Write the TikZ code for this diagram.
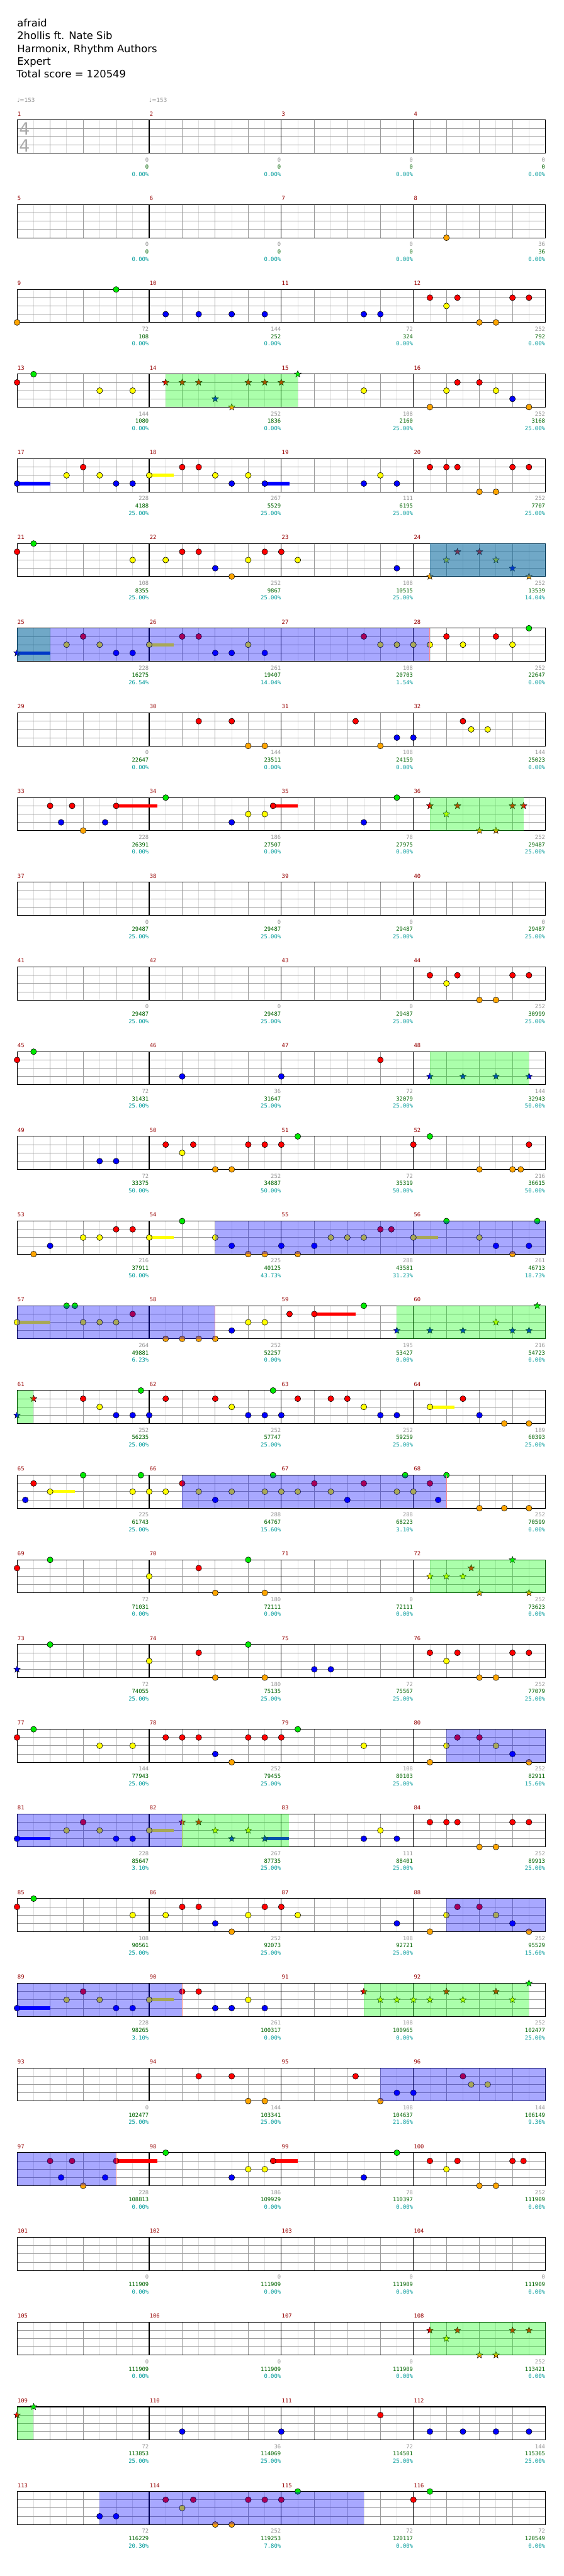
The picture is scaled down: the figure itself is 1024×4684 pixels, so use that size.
\documentclass[tikz,border=0pt]{standalone}
\usepackage{fontspec}
\setmainfont{DejaVu Sans}
\newfontfamily\monof{DejaVu Sans Mono}
\usetikzlibrary{shapes.geometric}
\definecolor{lG}{RGB}{0,235,0}
\definecolor{lR}{RGB}{255,0,0}
\definecolor{lY}{RGB}{255,255,0}
\definecolor{lB}{RGB}{0,0,255}
\definecolor{lO}{RGB}{255,165,0}
\definecolor{mred}{RGB}{150,0,0}
\definecolor{ngray}{RGB}{150,150,150}
\definecolor{ngreen}{RGB}{0,100,0}
\definecolor{nteal}{RGB}{0,155,155}
\definecolor{gridd}{RGB}{155,155,155}
\definecolor{gridl}{RGB}{220,220,220}
\definecolor{endred}{RGB}{255,140,140}
\def\laneG{0}\def\laneR{1}\def\laneY{2}\def\laneB{3}\def\laneO{4}
\newcounter{stc}
\newcommand\setpos[2]{%
  \pgfmathtruncatemacro\rowk{(#1-1)/4}%
  \pgfmathtruncatemacro\colj{#1-1-4*\rowk}%
  \pgfmathsetmacro\px{31+240*\colj+30*(#2)}%
  \pgfmathsetmacro\py{218.3+154*\rowk}}
\newcommand\nt[3]{\setpos{#1}{#2}\pgfmathsetmacro\qy{\py+15*\csname lane#3\endcsname}%
  \fill[l#3,draw=black,line width=0.5pt] (\px,\qy) circle[radius=4pt];}
\newcommand\sn[3]{\setpos{#1}{#2}\pgfmathsetmacro\qy{\py+15*\csname lane#3\endcsname}%
  \stepcounter{stc}\node[starnote,fill=l#3] (star\arabic{stc}) at (\px,\qy) {};}
\newcommand\sus[4]{\setpos{#1}{#2}\pgfmathsetmacro\qy{\py+15*\csname lane#3\endcsname}%
  \fill[l#3] (\px,{\qy-3}) rectangle ({\px+30*(#4)},{\qy+3});}
\newcommand\reg[5]{\setpos{#4}{#5}\let\xb\px\setpos{#2}{#3}%
  \fill[#1] (\px,\py) rectangle (\xb,{\py+60});}
\newcommand\regend[2]{\setpos{#1}{#2}\draw[endl] (\px,\py) -- (\px,{\py+60});}
\begin{document}
\begin{tikzpicture}[x=0.75pt,y=-0.75pt,
  offl/.style={draw=gridl,line width=0.75pt},
  beatl/.style={draw=gridd,line width=0.75pt},
  measl/.style={draw=black,line width=0.9pt},
  endl/.style={draw=endred,line width=0.8pt},
  starnote/.style={star,star points=5,star point ratio=2.3,minimum size=9.5pt,inner sep=0pt,draw=black,line width=0.4pt},
  gsp/.style={fill={rgb,255:red,0;green,255;blue,0},fill opacity=0.33},
  bsp/.style={fill={rgb,255:red,0;green,0;blue,255},fill opacity=0.34},
  head/.style={font=\fontsize{14pt}{16pt}\selectfont,anchor=base west,inner sep=0pt,text=black},
  lab/.style={font=\monof\fontsize{7.6pt}{9pt}\selectfont,text=mred,anchor=base west,inner sep=0pt},
  numa/.style={font=\monof\fontsize{7.6pt}{9pt}\selectfont,text=ngray,anchor=base east,inner sep=0pt},
  numb/.style={font=\monof\fontsize{7.6pt}{9pt}\selectfont,text=ngreen,anchor=base east,inner sep=0pt},
  numc/.style={font=\monof\fontsize{7.6pt}{9pt}\selectfont,text=nteal,anchor=base east,inner sep=0pt},
  tempo/.style={font=\fontsize{7.5pt}{9pt}\selectfont,text=ngray,anchor=base west,inner sep=0pt},
  tsig/.style={font=\fontsize{23pt}{24pt}\selectfont,text={rgb,255:red,170;green,170;blue,170},inner sep=0pt}]
\fill[white] (0,0) rectangle (1024,4684);
\useasboundingbox (0,0) rectangle (1024,4684);
% header
\node[head] (title) at (31,49) {afraid};
\node[head] (artist) at (31,72) {2hollis ft. Nate Sib};
\node[head] (charter) at (31,95) {Harmonix, Rhythm Authors};
\node[head] (diff) at (31,118) {Expert};
\node[head] (score) at (30,141) {Total score = 120549};
\node[tempo] (tempo1) at (31,185.5) {♩=153};
\node[tempo] (tempo2) at (271,185.5) {♩=153};
% grid
\foreach \k in {0,...,28} {
  \pgfmathsetmacro\T{218.3+154*\k}
  \foreach \i in {0,...,15} \draw[offl] ({61+60*\i},\T) -- ++(0,60);
  \foreach \i in {1,...,15} \draw[beatl] ({31+60*\i},\T) -- ++(0,60);
  \foreach \l in {1,2,3} \draw[beatl] (31,{\T+15*\l}) -- (991,{\T+15*\l});
  \foreach \j in {1,2,3} \draw[measl] ({31+240*\j},\T) -- ++(0,60);
  \draw[measl] (31,\T) rectangle (991,{\T+60});
}
\node[tsig] (ts1) at (44.5,234.6) {4};
\node[tsig] (ts2) at (44.5,265.2) {4};
% labels and numbers
\foreach \m/\ga/\gb/\gc in {1/0/0/0.00,2/0/0/0.00,3/0/0/0.00,4/0/0/0.00,5/0/0/0.00,6/0/0/0.00,7/0/0/0.00,8/36/36/0.00,
 9/72/108/0.00,10/144/252/0.00,11/72/324/0.00,12/252/792/0.00,13/144/1080/0.00,14/252/1836/0.00,15/108/2160/25.00,16/252/3168/25.00,
 17/228/4188/25.00,18/267/5529/25.00,19/111/6195/25.00,20/252/7707/25.00,21/108/8355/25.00,22/252/9867/25.00,23/108/10515/25.00,24/252/13539/14.04,
 25/228/16275/26.54,26/261/19407/14.04,27/108/20703/1.54,28/252/22647/0.00,29/0/22647/0.00,30/144/23511/0.00,31/108/24159/0.00,32/144/25023/0.00,
 33/228/26391/0.00,34/186/27507/0.00,35/78/27975/0.00,36/252/29487/25.00,37/0/29487/25.00,38/0/29487/25.00,39/0/29487/25.00,40/0/29487/25.00,
 41/0/29487/25.00,42/0/29487/25.00,43/0/29487/25.00,44/252/30999/25.00,45/72/31431/25.00,46/36/31647/25.00,47/72/32079/25.00,48/144/32943/50.00,
 49/72/33375/50.00,50/252/34887/50.00,51/72/35319/50.00,52/216/36615/50.00,53/216/37911/50.00,54/225/40125/43.73,55/288/43581/31.23,56/261/46713/18.73,
 57/264/49881/6.23,58/252/52257/0.00,59/195/53427/0.00,60/216/54723/0.00,61/252/56235/25.00,62/252/57747/25.00,63/252/59259/25.00,64/189/60393/25.00,
 65/225/61743/25.00,66/288/64767/15.60,67/288/68223/3.10,68/252/70599/0.00,69/72/71031/0.00,70/180/72111/0.00,71/0/72111/0.00,72/252/73623/0.00,
 73/72/74055/25.00,74/180/75135/25.00,75/72/75567/25.00,76/252/77079/25.00,77/144/77943/25.00,78/252/79455/25.00,79/108/80103/25.00,80/252/82911/15.60,
 81/228/85647/3.10,82/267/87735/25.00,83/111/88401/25.00,84/252/89913/25.00,85/108/90561/25.00,86/252/92073/25.00,87/108/92721/25.00,88/252/95529/15.60,
 89/228/98265/3.10,90/261/100317/0.00,91/108/100965/0.00,92/252/102477/25.00,93/0/102477/25.00,94/144/103341/25.00,95/108/104637/21.86,96/144/106149/9.36,
 97/228/108813/0.00,98/186/109929/0.00,99/78/110397/0.00,100/252/111909/0.00,101/0/111909/0.00,102/0/111909/0.00,103/0/111909/0.00,104/0/111909/0.00,
 105/0/111909/0.00,106/0/111909/0.00,107/0/111909/0.00,108/252/113421/0.00,109/72/113853/25.00,110/36/114069/25.00,111/72/114501/25.00,112/144/115365/25.00,
 113/72/116229/20.30,114/252/119253/7.80,115/72/120117/0.00,116/72/120549/0.00} {
  \setpos{\m}{0}
  \node[lab] (ml\m) at ({\px+0.7},{\py-7.6}) {\m};
  \node[numa] (na\m) at ({\px+239.5},{\py+75.8}) {\ga};
  \node[numb] (nb\m) at ({\px+239.5},{\py+89.2}) {\gb};
  \node[numc] (nc\m) at ({\px+239.5},{\py+102.4}) {\gc\%};
}
% notes
\nt{8}{2}{O}
\nt{9}{0}{O}\nt{9}{6}{G}
\nt{10}{1}{B}\nt{10}{3}{B}\nt{10}{5}{B}\nt{10}{7}{B}
\nt{11}{5}{B}\nt{11}{6}{B}
\nt{12}{1}{R}\nt{12}{2}{Y}\nt{12}{2.667}{R}\nt{12}{4}{O}\nt{12}{5}{O}\nt{12}{6}{R}\nt{12}{7}{R}
\nt{13}{0}{R}\nt{13}{1}{G}\nt{13}{5}{Y}\nt{13}{7}{Y}
\sn{14}{1}{R}\sn{14}{2}{R}\sn{14}{3}{R}\sn{14}{4}{B}\sn{14}{5}{O}\sn{14}{6}{R}\sn{14}{7}{R}\sn{15}{0}{R}\sn{15}{1}{G}
\nt{15}{5}{Y}
\nt{16}{1}{O}\nt{16}{2}{Y}\nt{16}{2.667}{R}\nt{16}{4}{R}\nt{16}{5}{Y}\nt{16}{6}{B}\nt{16}{7}{O}
\sus{17}{0}{B}{2}\nt{17}{0}{B}\nt{17}{3}{Y}\nt{17}{4}{R}\nt{17}{5}{Y}\nt{17}{6}{B}\nt{17}{7}{B}
\sus{18}{0}{Y}{1.5}\nt{18}{0}{Y}\nt{18}{2}{R}\nt{18}{3}{R}\nt{18}{4}{Y}\nt{18}{5}{B}\nt{18}{6}{Y}\sus{18}{7}{B}{1.5}\nt{18}{7}{B}
\nt{19}{5}{B}\nt{19}{6}{Y}\nt{19}{7}{B}
\nt{20}{1}{R}\nt{20}{2}{R}\nt{20}{2.667}{R}\nt{20}{4}{O}\nt{20}{5}{O}\nt{20}{6}{R}\nt{20}{7}{R}
\nt{21}{0}{R}\nt{21}{1}{G}\nt{21}{7}{Y}
\nt{22}{1}{Y}\nt{22}{2}{R}\nt{22}{3}{R}\nt{22}{4}{B}\nt{22}{5}{O}\nt{22}{6}{Y}\nt{22}{7}{R}
\nt{23}{0}{R}\nt{23}{1}{Y}\nt{23}{7}{B}
\sn{24}{1}{O}\sn{24}{2}{Y}\sn{24}{2.667}{R}\sn{24}{4}{R}\sn{24}{5}{Y}\sn{24}{6}{B}\sn{24}{7}{O}
\sus{25}{0}{B}{2}\sn{25}{0}{B}\nt{25}{3}{Y}\nt{25}{4}{R}\nt{25}{5}{Y}\nt{25}{6}{B}\nt{25}{7}{B}
\sus{26}{0}{Y}{1.5}\nt{26}{0}{Y}\nt{26}{2}{R}\nt{26}{3}{R}\nt{26}{4}{B}\nt{26}{5}{B}\nt{26}{6}{Y}\nt{26}{7}{B}
\nt{27}{5}{R}\nt{27}{6}{Y}\nt{27}{7}{Y}
\nt{28}{0}{Y}\nt{28}{1}{Y}\nt{28}{2}{R}\nt{28}{3}{Y}\nt{28}{5}{R}\nt{28}{6}{Y}\nt{28}{7}{G}
\nt{30}{3}{R}\nt{30}{5}{R}\nt{30}{6}{O}\nt{30}{7}{O}
\nt{31}{4.5}{R}\nt{31}{6}{O}\nt{31}{7}{B}
\nt{32}{0}{B}\nt{32}{3}{R}\nt{32}{3.5}{Y}\nt{32}{4.5}{Y}
\nt{33}{2}{R}\nt{33}{2.667}{B}\nt{33}{3.333}{R}\nt{33}{4}{O}\nt{33}{5.333}{B}\sus{33}{6}{R}{2.5}\nt{33}{6}{R}
\nt{34}{1}{G}\nt{34}{5}{B}\nt{34}{6}{Y}\nt{34}{7}{Y}\sus{34}{7.5}{R}{1.5}\nt{34}{7.5}{R}
\nt{35}{5}{B}\nt{35}{7}{G}
\sn{36}{1}{R}\sn{36}{2}{Y}\sn{36}{2.667}{R}\sn{36}{4}{O}\sn{36}{5}{O}\sn{36}{6}{R}\sn{36}{6.667}{R}
\nt{44}{1}{R}\nt{44}{2}{Y}\nt{44}{2.667}{R}\nt{44}{4}{O}\nt{44}{5}{O}\nt{44}{6}{R}\nt{44}{7}{R}
\nt{45}{0}{R}\nt{45}{1}{G}\nt{46}{2}{B}\nt{47}{0}{B}\nt{47}{6}{R}
\sn{48}{1}{B}\sn{48}{3}{B}\sn{48}{5}{B}\sn{48}{7}{B}
\nt{49}{5}{B}\nt{49}{6}{B}
\nt{50}{1}{R}\nt{50}{2}{Y}\nt{50}{2.667}{R}\nt{50}{4}{O}\nt{50}{5}{O}\nt{50}{6}{R}\nt{50}{7}{R}
\nt{51}{0}{R}\nt{51}{1}{G}
\nt{52}{0}{R}\nt{52}{1}{G}\nt{52}{4}{O}\nt{52}{6}{O}\nt{52}{6.5}{O}\nt{52}{7}{R}
\nt{53}{1}{O}\nt{53}{2}{B}\nt{53}{4}{Y}\nt{53}{5}{Y}\nt{53}{6}{R}\nt{53}{7}{R}
\sus{54}{0}{Y}{1.5}\nt{54}{0}{Y}\nt{54}{2}{G}\nt{54}{4}{Y}\nt{54}{5}{B}\nt{54}{6}{O}\nt{54}{7}{O}
\nt{55}{0}{B}\nt{55}{1}{O}\nt{55}{2}{B}\nt{55}{3}{Y}\nt{55}{4}{Y}\nt{55}{5}{Y}\nt{55}{6}{R}\nt{55}{6.667}{R}
\sus{56}{0}{Y}{1.5}\nt{56}{0}{Y}\nt{56}{2}{G}\nt{56}{4}{Y}\nt{56}{5}{B}\nt{56}{6}{O}\nt{56}{7}{B}\nt{56}{7.5}{G}
\sus{57}{0}{Y}{2}\nt{57}{0}{Y}\nt{57}{3}{G}\nt{57}{3.5}{G}\nt{57}{4}{Y}\nt{57}{5}{Y}\nt{57}{6}{Y}\nt{57}{7}{R}
\nt{58}{1}{O}\nt{58}{2}{O}\nt{58}{3}{O}\nt{58}{4}{O}\nt{58}{5}{B}\nt{58}{6}{Y}\nt{58}{7}{Y}
\nt{59}{0.5}{R}\sus{59}{2}{R}{2.5}\nt{59}{2}{R}\nt{59}{5}{G}\sn{59}{7}{B}
\sn{60}{1}{B}\sn{60}{3}{B}\sn{60}{5}{Y}\sn{60}{6}{B}\sn{60}{7}{B}\sn{60}{7.5}{G}
\sn{61}{0}{B}\sn{61}{1}{R}\nt{61}{4}{R}\nt{61}{5}{Y}\nt{61}{6}{B}\nt{61}{7}{B}\nt{61}{7.5}{G}
\nt{62}{0}{B}\nt{62}{1}{R}\nt{62}{4}{R}\nt{62}{5}{Y}\nt{62}{6}{B}\nt{62}{7}{B}\nt{62}{7.5}{G}
\nt{63}{0}{B}\nt{63}{1}{R}\nt{63}{3}{R}\nt{63}{4}{R}\nt{63}{5}{Y}\nt{63}{6}{B}\nt{63}{7}{B}
\sus{64}{1}{Y}{1.5}\nt{64}{1}{Y}\nt{64}{3}{R}\nt{64}{4}{B}\nt{64}{5.5}{O}\nt{64}{7}{O}
\nt{65}{0.5}{B}\nt{65}{1}{R}\sus{65}{2}{Y}{1.5}\nt{65}{2}{Y}\nt{65}{4}{G}\nt{65}{7}{Y}\nt{65}{7.5}{G}
\nt{66}{0}{Y}\nt{66}{1}{Y}\nt{66}{2}{R}\nt{66}{3}{Y}\nt{66}{4}{B}\nt{66}{5}{Y}\nt{66}{7}{Y}\nt{66}{7.5}{G}
\nt{67}{0}{Y}\nt{67}{1}{Y}\nt{67}{2}{R}\nt{67}{3}{Y}\nt{67}{4}{B}\nt{67}{5}{R}\nt{67}{7}{Y}\nt{67}{7.5}{G}
\nt{68}{0}{Y}\nt{68}{1}{R}\nt{68}{1.5}{B}\nt{68}{2}{G}\nt{68}{4}{O}\nt{68}{5.5}{O}\nt{68}{7}{O}
\nt{69}{0}{R}\nt{69}{2}{G}
\nt{70}{0}{Y}\nt{70}{3}{R}\nt{70}{4}{O}\nt{70}{6}{G}\nt{70}{7}{O}
\sn{72}{1}{Y}\sn{72}{2}{Y}\sn{72}{3}{Y}\sn{72}{3.5}{R}\sn{72}{4}{O}\sn{72}{6}{G}\sn{72}{7}{O}
\sn{73}{0}{B}\nt{73}{2}{G}
\nt{74}{0}{Y}\nt{74}{3}{R}\nt{74}{4}{O}\nt{74}{6}{G}\nt{74}{7}{O}
\nt{75}{2}{B}\nt{75}{3}{B}
\nt{76}{1}{R}\nt{76}{2}{Y}\nt{76}{2.667}{R}\nt{76}{4}{O}\nt{76}{5}{O}\nt{76}{6}{R}\nt{76}{7}{R}
\nt{77}{0}{R}\nt{77}{1}{G}\nt{77}{5}{Y}\nt{77}{7}{Y}
\nt{78}{1}{R}\nt{78}{2}{R}\nt{78}{3}{R}\nt{78}{4}{B}\nt{78}{5}{O}\nt{78}{6}{R}\nt{78}{7}{R}
\nt{79}{0}{R}\nt{79}{1}{G}\nt{79}{5}{Y}
\nt{80}{1}{O}\nt{80}{2}{Y}\nt{80}{2.667}{R}\nt{80}{4}{R}\nt{80}{5}{Y}\nt{80}{6}{B}\nt{80}{7}{O}
\sus{81}{0}{B}{2}\nt{81}{0}{B}\nt{81}{3}{Y}\nt{81}{4}{R}\nt{81}{5}{Y}\nt{81}{6}{B}\nt{81}{7}{B}
\sus{82}{0}{Y}{1.5}\nt{82}{0}{Y}\sn{82}{2}{R}\sn{82}{3}{R}\sn{82}{4}{Y}\sn{82}{5}{B}\sn{82}{6}{Y}\sus{82}{7}{B}{1.47}\sn{82}{7}{B}
\nt{83}{5}{B}\nt{83}{6}{Y}\nt{83}{7}{B}
\nt{84}{1}{R}\nt{84}{2}{R}\nt{84}{2.667}{R}\nt{84}{4}{O}\nt{84}{5}{O}\nt{84}{6}{R}\nt{84}{7}{R}
\nt{85}{0}{R}\nt{85}{1}{G}\nt{85}{7}{Y}
\nt{86}{1}{Y}\nt{86}{2}{R}\nt{86}{3}{R}\nt{86}{4}{B}\nt{86}{5}{O}\nt{86}{6}{Y}\nt{86}{7}{R}
\nt{87}{0}{R}\nt{87}{1}{Y}\nt{87}{7}{B}
\nt{88}{1}{O}\nt{88}{2}{Y}\nt{88}{2.667}{R}\nt{88}{4}{R}\nt{88}{5}{Y}\nt{88}{6}{B}\nt{88}{7}{O}
\sus{89}{0}{B}{2}\nt{89}{0}{B}\nt{89}{3}{Y}\nt{89}{4}{R}\nt{89}{5}{Y}\nt{89}{6}{B}\nt{89}{7}{B}
\sus{90}{0}{Y}{1.5}\nt{90}{0}{Y}\nt{90}{2}{R}\nt{90}{3}{R}\nt{90}{4}{B}\nt{90}{5}{B}\nt{90}{6}{Y}\nt{90}{7}{B}
\sn{91}{5}{R}\sn{91}{6}{Y}\sn{91}{7}{Y}
\sn{92}{0}{Y}\sn{92}{1}{Y}\sn{92}{2}{R}\sn{92}{3}{Y}\sn{92}{5}{R}\sn{92}{6}{Y}\sn{92}{7}{G}
\nt{94}{3}{R}\nt{94}{5}{R}\nt{94}{6}{O}\nt{94}{7}{O}
\nt{95}{4.5}{R}\nt{95}{6}{O}\nt{95}{7}{B}
\nt{96}{0}{B}\nt{96}{3}{R}\nt{96}{3.5}{Y}\nt{96}{4.5}{Y}
\nt{97}{2}{R}\nt{97}{2.667}{B}\nt{97}{3.333}{R}\nt{97}{4}{O}\nt{97}{5.333}{B}\sus{97}{6}{R}{2.5}\nt{97}{6}{R}
\nt{98}{1}{G}\nt{98}{5}{B}\nt{98}{6}{Y}\nt{98}{7}{Y}\sus{98}{7.5}{R}{1.5}\nt{98}{7.5}{R}
\nt{99}{5}{B}\nt{99}{7}{G}
\nt{100}{1}{R}\nt{100}{2}{Y}\nt{100}{2.667}{R}\nt{100}{4}{O}\nt{100}{5}{O}\nt{100}{6}{R}\nt{100}{6.667}{R}
\sn{108}{1}{R}\sn{108}{2}{Y}\sn{108}{2.667}{R}\sn{108}{4}{O}\sn{108}{5}{O}\sn{108}{6}{R}\sn{108}{7}{R}
\sn{109}{0}{R}\sn{109}{1}{G}
\nt{110}{2}{B}\nt{111}{0}{B}\nt{111}{6}{R}
\nt{112}{1}{B}\nt{112}{3}{B}\nt{112}{5}{B}\nt{112}{7}{B}
\nt{113}{5}{B}\nt{113}{6}{B}
\nt{114}{1}{R}\nt{114}{2}{Y}\nt{114}{2.667}{R}\nt{114}{4}{O}\nt{114}{5}{O}\nt{114}{6}{R}\nt{114}{7}{R}
\nt{115}{0}{R}\nt{115}{1}{G}
\nt{116}{0}{R}\nt{116}{1}{G}
% star power phrases (green) and activations (blue)
\reg{gsp}{14}{1}{15}{1}
\reg{gsp}{24}{1}{24}{8}\reg{gsp}{25}{0}{25}{2}
\reg{bsp}{24}{1}{24}{8}\reg{bsp}{25}{0}{28}{1}\regend{28}{1}
\reg{gsp}{36}{1}{36}{6.667}
\reg{gsp}{48}{1}{48}{7}
\reg{bsp}{54}{4}{56}{8}\reg{bsp}{57}{0}{58}{4}\regend{58}{4}
\reg{gsp}{59}{7}{60}{8}\reg{gsp}{61}{0}{61}{1}
\reg{bsp}{66}{2}{68}{2}\regend{68}{2}
\reg{gsp}{72}{1}{72}{8}
\reg{bsp}{80}{2}{80}{8}\reg{bsp}{81}{0}{82}{2}\regend{82}{2}
\reg{gsp}{82}{2}{83}{0.47}
\reg{bsp}{88}{2}{88}{8}\reg{bsp}{89}{0}{90}{2}\regend{90}{2}
\reg{gsp}{91}{5}{92}{7}
\reg{bsp}{95}{6}{96}{8}\reg{bsp}{97}{0}{97}{6}\regend{97}{6}
\reg{gsp}{108}{1}{108}{8}\reg{gsp}{109}{0}{109}{1}
\reg{bsp}{113}{5}{115}{5}
\end{tikzpicture}
\end{document}
